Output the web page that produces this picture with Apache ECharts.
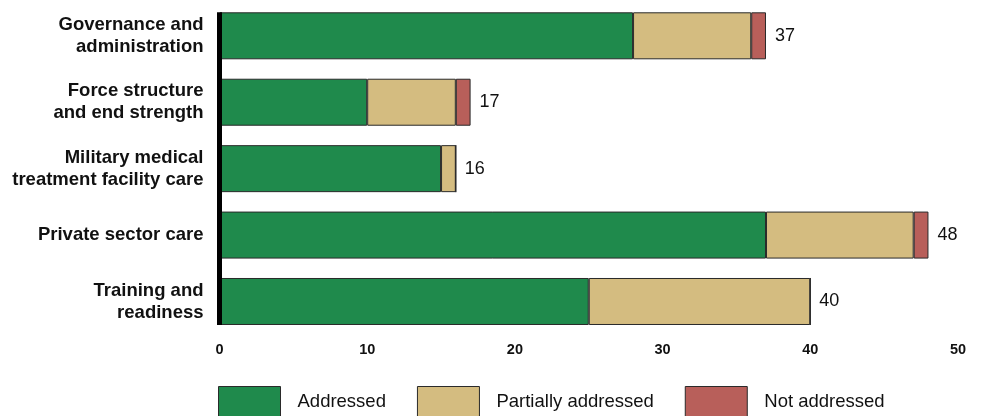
<!DOCTYPE html>
<html><head><meta charset="utf-8">
<script src="https://cdn.jsdelivr.net/npm/echarts@6/dist/echarts.min.js"></script>
<style>html,body{margin:0;padding:0;background:#fff}#c{width:982px;height:416px}</style>
</head><body><div id="c"></div>
<script>
const categories = ["Governance and\nadministration","Force structure\nand end strength","Military medical\ntreatment facility care","Private sector care","Training and\nreadiness"];
const addressed = [28, 10, 15, 37, 25];
const partially = [8, 6, 1, 10, 15];
const notAddressed = [1, 1, 0, 1, 0];
const xTicks = [0, 10, 20, 30, 40, 50];
const totals = categories.map((_, i) => addressed[i] + partially[i] + notAddressed[i]);

const chart = echarts.init(document.getElementById('c'));
const border = {borderColor:'#2a2a2a', borderWidth:1};
chart.setOption({
  animation:false,
  textStyle:{fontFamily:'Liberation Sans, Arial, sans-serif'},
  grid:[
    {left:219.5, right:24, top:2.6, bottom:81.3, containLabel:false},
    {left:219.5, right:24, top:12.3, bottom:91, containLabel:false}
  ],
  legend:{
    left:218, top:386, padding:0, itemWidth:62, itemHeight:30, itemGap:31,
    icon:'rect',
    data:['Addressed','Partially addressed','Not addressed'],
    itemStyle:{borderColor:'#2a2a2a', borderWidth:1},
    textStyle:{fontSize:18.5, color:'#111', padding:[0,0,0,12]},
    selectedMode:false
  },
  xAxis:[{
    type:'value', min:0, max:50, interval:10, gridIndex:0,
    axisLine:{show:false}, axisTick:{show:false}, splitLine:{show:false},
    axisLabel:{fontSize:14.5, fontWeight:'bold', color:'#111', margin:8,
      formatter: v => xTicks.includes(v) ? String(v) : ''}
  },{
    type:'value', min:0, max:50, gridIndex:1, show:false
  }],
  yAxis:[{
    type:'category', inverse:true, data:categories, gridIndex:0,
    axisLine:{show:false},
    axisTick:{show:false},
    axisLabel:{fontSize:18.5, fontWeight:'bold', color:'#111', margin:16, lineHeight:22, align:'right'}
  },{
    type:'category', gridIndex:1, data:categories, z:10,
    axisLine:{show:true, lineStyle:{color:'#000', width:5, cap:'butt'}},
    axisTick:{show:false}, axisLabel:{show:false}
  }],
  series:[
    {name:'Addressed', type:'bar', stack:'s', barWidth:47, data:addressed,
      itemStyle:Object.assign({color:'#1f8a4c'}, border)},
    {name:'Partially addressed', type:'bar', stack:'s', data:partially,
      itemStyle:Object.assign({color:'#d4bc80'}, border)},
    {name:'Not addressed', type:'bar', stack:'s', data:notAddressed,
      itemStyle:Object.assign({color:'#b85f5a'}, border)},
    {name:'Total', type:'bar', stack:'s', data:totals.map(()=>0),
      itemStyle:{color:'transparent', borderWidth:0},
      label:{show:true, position:'right', distance:9, fontSize:18, color:'#111',
        formatter: p => String(totals[p.dataIndex])}}
  ]
});
</script></body></html>
